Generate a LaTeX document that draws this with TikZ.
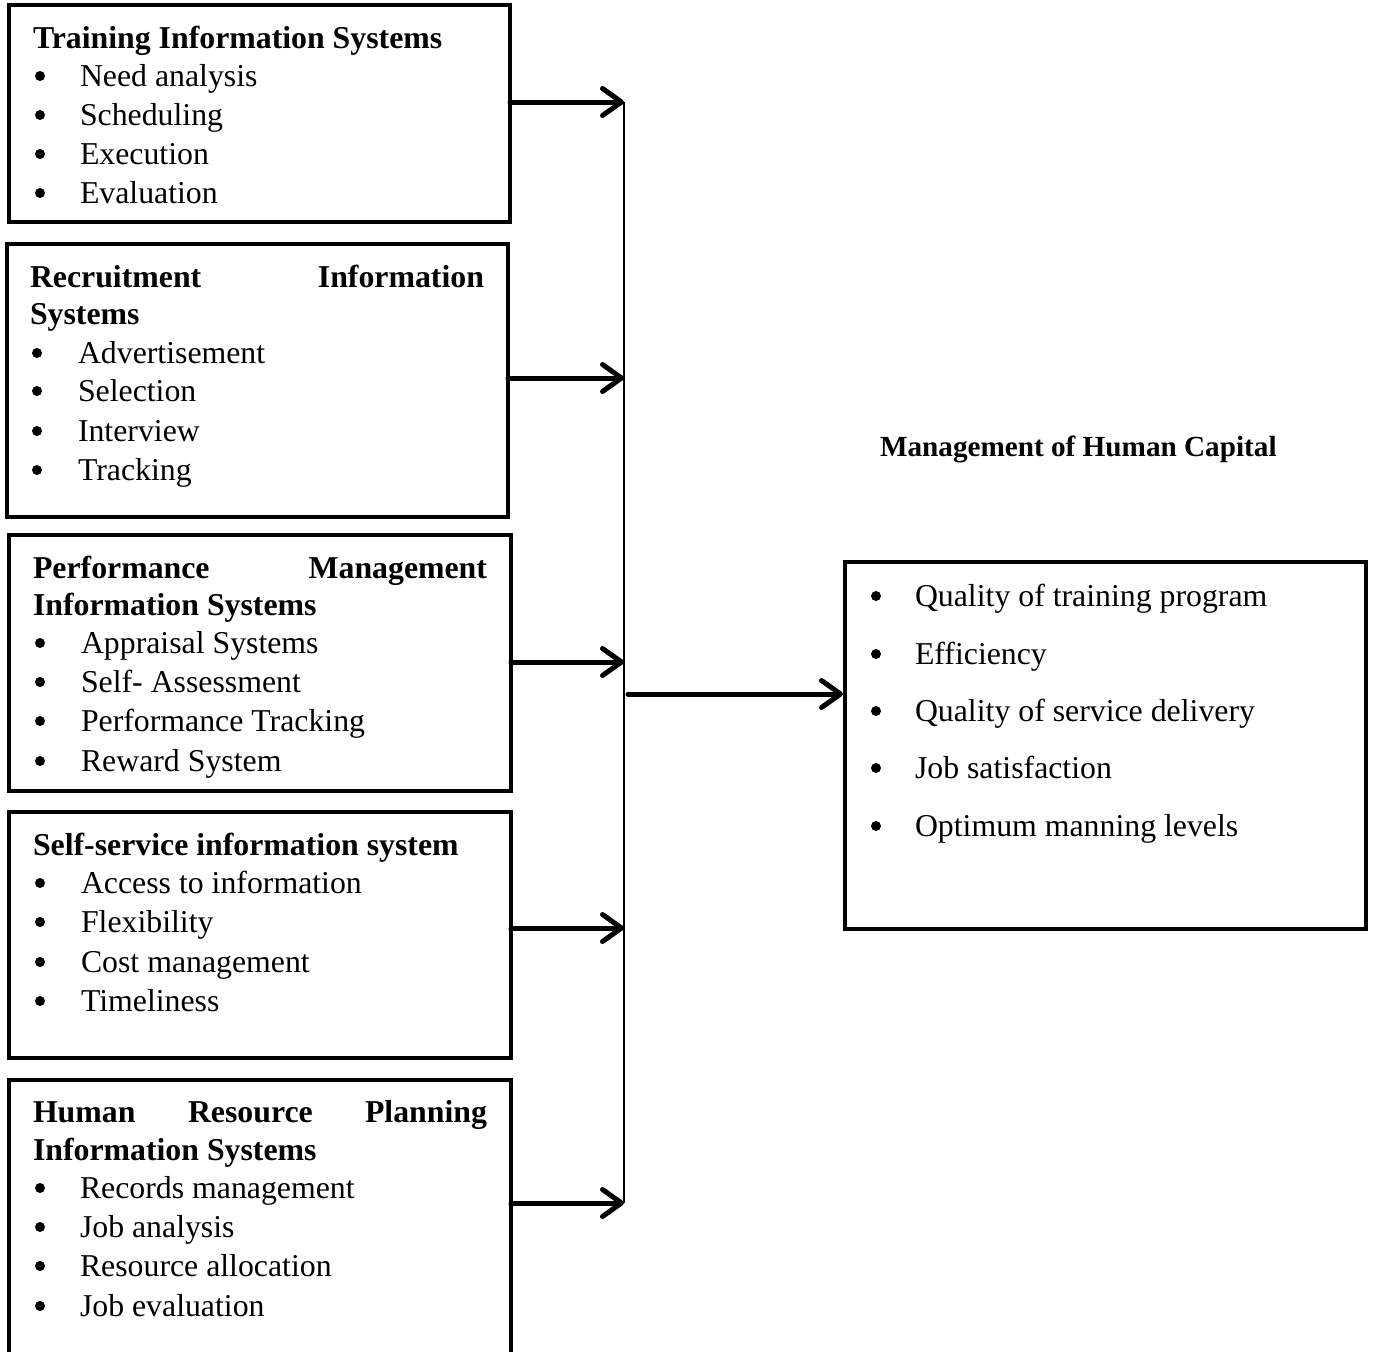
\documentclass[tikz,border=0pt]{standalone}
\usepackage{fontspec}
\setmainfont{Liberation Serif}
\usetikzlibrary{arrows.meta}
\newcommand{\itfont}{\fontsize{31.8}{39}\selectfont}
\newcommand{\hdfont}{\fontsize{31.8}{39}\selectfont\bfseries}
\newcommand{\mhfont}{\fontsize{29.2}{35}\selectfont\bfseries}
\tikzset{
  sysbox/.style={draw, line width=4pt, rectangle, inner sep=0pt, outer sep=0pt, anchor=north west},
  txt/.style={inner sep=0pt, outer sep=0pt, anchor=base west, font=\itfont},
  hd/.style={inner sep=0pt, outer sep=0pt, anchor=base west, font=\hdfont},
  hdr/.style={inner sep=0pt, outer sep=0pt, anchor=base east, font=\hdfont},
  bul/.style={circle, fill, inner sep=0pt, outer sep=0pt, minimum size=10pt, yshift=10pt},
  feed/.style={line width=5pt, line cap=round, -{Straight Barb[length=19pt,width=27pt,round]}},
  bus/.style={line width=1.6pt}
}
\begin{document}
\begin{tikzpicture}[x=1pt,y=-1pt]
\useasboundingbox (0,0) rectangle (1374,1352);
\fill[white] (0,0) rectangle (1374,1352);

% boxes
\node[sysbox, minimum width=501pt, minimum height=217pt] (b1) at (9,5) {};
\node[sysbox, minimum width=501pt, minimum height=273pt] (b2) at (7,244) {};
\node[sysbox, minimum width=502pt, minimum height=256pt] (b3) at (9,535) {};
\node[sysbox, minimum width=502pt, minimum height=246pt] (b4) at (9,812) {};
\node[sysbox, minimum width=502pt, minimum height=290pt] (b5) at (9,1080) {};
\node[sysbox, minimum width=521pt, minimum height=367pt] (out) at (845,562) {};

% box 1
\node[hd] (h1) at (33,48) {Training Information Systems};
\foreach \y/\t [count=\i] in {86/Need analysis,125/Scheduling,164/Execution,203/Evaluation}{
  \node[bul] (b1d\i) at (40,\y) {};
  \node[txt] (b1t\i) at (80,\y) {\t};
}

% box 2
\node[hd] (h2a) at (30,287) {Recruitment};
\node[hdr] (h2b) at (484,287) {Information};
\node[hd] (h2c) at (30,324) {Systems};
\foreach \y/\t [count=\i] in {363/Advertisement,401/Selection,441/Interview,480/Tracking}{
  \node[bul] (b2d\i) at (37,\y) {};
  \node[txt] (b2t\i) at (78,\y) {\t};
}

% box 3
\node[hd] (h3a) at (33,578) {Performance};
\node[hdr] (h3b) at (487,578) {Management};
\node[hd] (h3c) at (33,615) {Information Systems};
\foreach \y/\t [count=\i] in {653/Appraisal Systems,692/Self- Assessment,731/Performance Tracking,771/Reward System}{
  \node[bul] (b3d\i) at (40,\y) {};
  \node[txt] (b3t\i) at (81,\y) {\t};
}

% box 4
\node[hd] (h4) at (33,855) {Self-service information system};
\foreach \y/\t [count=\i] in {893/Access to information,932/Flexibility,972/Cost management,1011/Timeliness}{
  \node[bul] (b4d\i) at (40,\y) {};
  \node[txt] (b4t\i) at (81,\y) {\t};
}

% box 5
\node[hd] (h5a) at (33,1122) {Human};
\node[hd] (h5b) at (188,1122) {Resource};
\node[hdr] (h5c) at (487,1122) {Planning};
\node[hd] (h5d) at (33,1160) {Information Systems};
\foreach \y/\t [count=\i] in {1198/Records management,1237/Job analysis,1276/Resource allocation,1316/Job evaluation}{
  \node[bul] (b5d\i) at (40,\y) {};
  \node[txt] (b5t\i) at (80,\y) {\t};
}

% right side
\node[inner sep=0pt, outer sep=0pt, anchor=base west, font=\mhfont] (mh) at (880,456) {Management of Human Capital};
\foreach \y/\t [count=\i] in {606/Quality of training program,664/Efficiency,721/Quality of service delivery,778/Job satisfaction,836/Optimum manning levels}{
  \node[bul] (od\i) at (876,\y) {};
  \node[txt] (ot\i) at (915,\y) {\t};
}

% connectors
\coordinate (j1) at (624,102);
\coordinate (j2) at (624,378);
\coordinate (j3) at (624,662);
\coordinate (j4) at (624,928);
\coordinate (j5) at (624,1203);
\coordinate (jm) at (628,694);
\draw[bus] (j1) -- (j5);
\draw[feed] (b1.east |- j1) -- (j1);
\draw[feed] (b2.east |- j2) -- (j2);
\draw[feed] (b3.east |- j3) -- (j3);
\draw[feed] (b4.east |- j4) -- (j4);
\draw[feed] (b5.east |- j5) -- (j5);
\draw[feed] (jm) -- ([xshift=-2pt]out.west |- jm);
\end{tikzpicture}
\end{document}
